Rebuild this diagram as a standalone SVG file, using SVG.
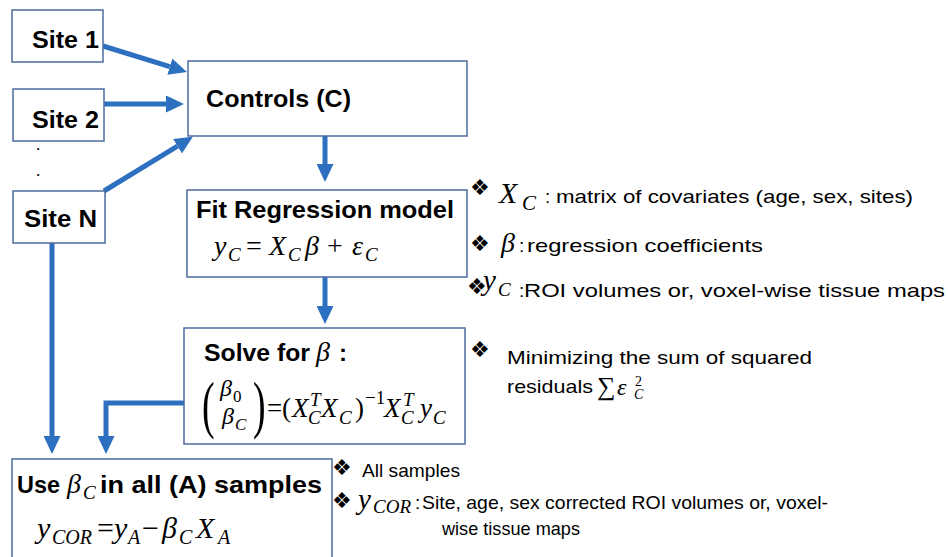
<svg xmlns="http://www.w3.org/2000/svg" width="948" height="557" viewBox="0 0 948 557">
<defs>
<style>
.box{fill:#fff;stroke:#4F6B9E;stroke-width:1.5}
.lbl{font-family:"Liberation Sans",Arial,sans-serif;font-weight:bold;font-size:24px;fill:#000}
.m{font-family:"Liberation Serif","Times New Roman",serif;font-style:italic;font-size:28px;fill:#000}
.ms{font-size:19px}
.mr{font-style:normal}
.t{font-family:"Liberation Sans",Arial,sans-serif;font-size:19px;fill:#000}
.bul{font-family:"DejaVu Sans",sans-serif;font-size:22px;fill:#000}
.conn{fill:none;stroke:#2E70C0;stroke-width:5;marker-end:url(#ah)}
</style>
<marker id="ah" viewBox="0 0 10 10" refX="0" refY="5" markerWidth="3.6" markerHeight="3.4" orient="auto" markerUnits="strokeWidth" preserveAspectRatio="none">
<path d="M0,0 L10,5 L0,10 z" fill="#2E70C0"/>
</marker>
</defs>
<rect width="948" height="557" fill="#fff"/>

<g id="connectors">
<path class="conn" d="M103,46 L169.8,66.7"/>
<path class="conn" d="M104,104 L166,104"/>
<path class="conn" d="M104,191 L177.5,146.2"/>
<path class="conn" d="M325,136 L325,164"/>
<path class="conn" d="M325,277 L325,306"/>
<path class="conn" d="M52,243 L52,436"/>
<path class="conn" d="M184,403 L106,403 L106,436"/>
</g>

<g id="site1">
<rect class="box" x="12" y="10" width="91" height="52"/>
<text class="lbl" x="32" y="48" textLength="67" lengthAdjust="spacingAndGlyphs">Site 1</text>
</g>
<g id="site2">
<rect class="box" x="13" y="89" width="91" height="52"/>
<text class="lbl" x="32" y="128" textLength="67" lengthAdjust="spacingAndGlyphs">Site 2</text>
</g>
<g id="dots">
<text class="lbl" x="36.5" y="150" style="font-size:12px">.</text>
<text class="lbl" x="36.5" y="176" style="font-size:12px">.</text>
</g>
<g id="siteN">
<rect class="box" x="13" y="191" width="92" height="52"/>
<text class="lbl" x="24" y="227" textLength="73" lengthAdjust="spacingAndGlyphs">Site N</text>
</g>

<g id="controls">
<rect class="box" x="188" y="61" width="279" height="75"/>
<text class="lbl" x="206" y="107" textLength="145" lengthAdjust="spacingAndGlyphs">Controls (C)</text>
</g>

<g id="fit">
<rect class="box" x="187" y="190" width="280" height="87"/>
<text class="lbl" x="196" y="218" textLength="258" lengthAdjust="spacingAndGlyphs">Fit Regression model</text>
<text class="m" y="255"><tspan x="214">y</tspan><tspan x="228" y="261" class="ms">C</tspan><tspan x="246" y="255" class="mr">=</tspan><tspan x="269">X</tspan><tspan x="288" y="261" class="ms">C</tspan><tspan x="305" y="255">β</tspan><tspan x="327" class="mr">+</tspan><tspan x="352">ε</tspan><tspan x="365" y="261" class="ms">C</tspan></text>
</g>

<g id="solve">
<rect class="box" x="184" y="328" width="281" height="116"/>
<text class="lbl" x="204" y="361" textLength="106" lengthAdjust="spacingAndGlyphs">Solve for</text>
<text class="m" x="316" y="361">β</text>
<text class="lbl" x="339" y="361">:</text>
<text class="m mr" transform="translate(202,426) scale(0.6,1)" style="font-size:63px">(</text>
<text class="m mr" transform="translate(253,426) scale(0.6,1)" style="font-size:63px">)</text>
<text class="m" style="font-size:24px"><tspan x="220" y="396">β</tspan><tspan x="233" y="402" class="mr" style="font-size:17px">0</tspan><tspan x="222" y="424">β</tspan><tspan x="235" y="430" style="font-size:17px">C</tspan></text>
<text class="m" y="417" style="font-size:27px"><tspan x="267" class="mr">=</tspan><tspan x="282" class="mr">(</tspan><tspan x="292">X</tspan><tspan x="310" y="406" class="ms">T</tspan><tspan x="308" y="424" class="ms">C</tspan><tspan x="321" y="417">X</tspan><tspan x="339" y="424" class="ms">C</tspan><tspan x="355" y="417" class="mr">)</tspan><tspan x="365" y="404" class="ms mr">−1</tspan><tspan x="384" y="417">X</tspan><tspan x="403" y="406" class="ms">T</tspan><tspan x="401" y="424" class="ms">C</tspan><tspan x="420" y="417">y</tspan><tspan x="433" y="424" class="ms">C</tspan></text>
</g>

<g id="use">
<rect class="box" x="12" y="459" width="320" height="110"/>
<text class="lbl" x="17" y="493" textLength="43" lengthAdjust="spacingAndGlyphs">Use</text>
<text class="m" x="67" y="493">β</text>
<text class="m ms" x="83" y="499">C</text>
<text class="lbl" x="100" y="493" textLength="222" lengthAdjust="spacingAndGlyphs">in all (A) samples</text>
<text class="m" y="538" style="font-size:30px"><tspan x="37">y</tspan><tspan x="52" y="544" style="font-size:20px">COR</tspan><tspan x="97" y="538" class="mr">=</tspan><tspan x="114">y</tspan><tspan x="128" y="544" style="font-size:20px">A</tspan><tspan x="142" y="538" class="mr">−</tspan><tspan x="162">β</tspan><tspan x="179" y="544" style="font-size:20px">C</tspan><tspan x="196" y="538">X</tspan><tspan x="218" y="544" style="font-size:20px">A</tspan></text>
</g>

<g id="notes-fit">
<text class="bul" x="470" y="195">❖</text>
<text class="m" x="499" y="203" style="font-size:30px">X</text>
<text class="m" x="522" y="210" style="font-size:21px">C</text>
<text class="t" x="545" y="203">:</text>
<text class="t" x="556" y="203" textLength="357" lengthAdjust="spacingAndGlyphs">matrix of covariates (age, sex, sites)</text>
<text class="bul" x="470" y="251">❖</text>
<text class="m" x="501" y="252">β</text>
<text class="t" x="519" y="252">:</text>
<text class="t" x="527" y="252" textLength="236" lengthAdjust="spacingAndGlyphs">regression coefficients</text>
<text class="bul" x="467" y="294">❖</text>
<text class="m" x="483" y="290" style="font-size:29px">y</text>
<text class="m" x="498" y="296" style="font-size:19px">C</text>
<text class="t" x="519" y="297">:</text>
<text class="t" x="524" y="297" textLength="421" lengthAdjust="spacingAndGlyphs">ROI volumes or, voxel-wise tissue maps</text>
</g>

<g id="notes-solve">
<text class="bul" x="470" y="357">❖</text>
<text class="t" x="507" y="364" textLength="305" lengthAdjust="spacingAndGlyphs">Minimizing the sum of squared</text>
<text class="t" x="507" y="393" textLength="86" lengthAdjust="spacingAndGlyphs">residuals</text>
<text class="m mr" x="597" y="395" style="font-size:26px">∑</text>
<text class="m" x="617" y="395" style="font-size:24px">ε</text>
<text class="m mr" x="635" y="386" style="font-size:14px">2</text>
<text class="m" x="634" y="399" style="font-size:14px">C</text>
</g>

<g id="notes-use">
<text class="bul" x="332" y="475">❖</text>
<text class="t" x="362" y="477" textLength="98" lengthAdjust="spacingAndGlyphs">All samples</text>
<text class="bul" x="332" y="508">❖</text>
<text class="m" x="358" y="509" style="font-size:29px">y</text>
<text class="m" x="373" y="513" style="font-size:19px">COR</text>
<text class="t" x="415" y="509">:</text>
<text class="t" x="422" y="509" textLength="406" lengthAdjust="spacingAndGlyphs">Site, age, sex corrected ROI volumes or, voxel-</text>
<text class="t" x="442" y="535" textLength="138" lengthAdjust="spacingAndGlyphs">wise tissue maps</text>
</g>
</svg>
